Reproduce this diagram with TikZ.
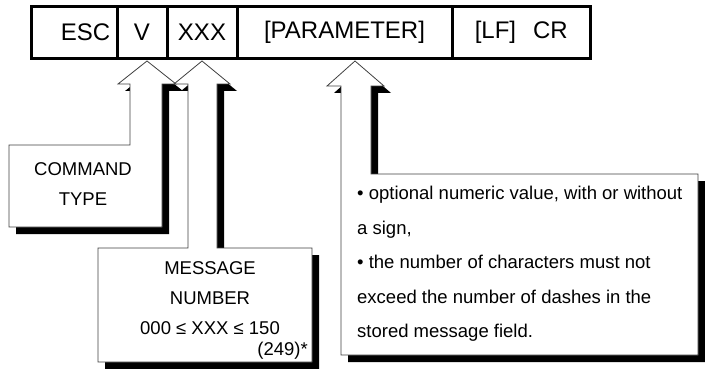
\documentclass[tikz,border=0pt]{standalone}
\usepackage{fontspec}
\setmainfont{Liberation Sans}
\usepackage{tikz}
\usetikzlibrary{positioning,shadows}

\begin{document}
\begin{tikzpicture}[x=1pt, y=-1pt,
  field/.style={rectangle, draw=black, line width=3pt, outer sep=0pt, inner sep=0pt, minimum height=52pt, anchor=west, font=\fontsize{24}{28}\selectfont},
  callout/.style={draw=black!75, line width=0.8pt, fill=white, drop shadow={opacity=1, fill=black, shadow xshift=7pt, shadow yshift=-7pt}},
  note/.style={inner sep=0pt, font=\fontsize{18.5}{30}\selectfont}
]
\useasboundingbox (0,0) rectangle (705,369);

% Telegram fields
\node[field, minimum width=85.5pt, text width=72pt, align=right] (esc) at (31.5,32.5) {ESC};
\node[field, minimum width=50pt, right=0pt of esc] (v) {V};
\node[field, minimum width=70pt, right=0pt of v] (xxx) {XXX};
\node[field, minimum width=215pt, right=0pt of xxx] (param) {[PARAMETER]};
\node[field, minimum width=138.5pt, right=0pt of param] (lfcr) {[LF]\hspace{17pt}CR};

% Callout arrows
\filldraw[callout] (147,61) -- (176,84) -- (162,84) -- (162,227) -- (9,227) -- (9,145) -- (130,145) -- (130,84) -- (118,84) -- cycle;
\filldraw[callout] (202,61) -- (230,84) -- (217,84) -- (217,248) -- (312,248) -- (312,362) -- (98,362) -- (98,248) -- (188,248) -- (188,84) -- (174,84) -- cycle;
\filldraw[callout] (355,61) -- (384,86) -- (371,86) -- (371,174) -- (698,174) -- (698,355) -- (341,355) -- (341,86) -- (327,86) -- cycle;

% Callout texts
\node[note, align=center] (cmdtype) at (83,184) {COMMAND\\TYPE};
\node[note, align=center] (msgnum) at (210,297.7) {MESSAGE\\NUMBER\\000 ≤ XXX ≤ 150};
\node[note, anchor=base east] (msgmax) at (308,355) {(249)*};
\node[note, font=\fontsize{18.5}{34.6}\selectfont, align=left, anchor=west] (paramnote) at (357,264) {\textbullet{} optional numeric value, with or without\\a sign,\\\textbullet{} the number of characters must not\\exceed the number of dashes in the\\stored message field.};

\end{tikzpicture}
\end{document}
